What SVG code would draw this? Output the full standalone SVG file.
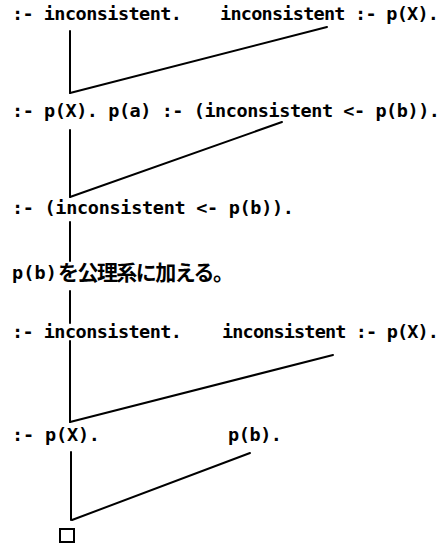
<svg xmlns="http://www.w3.org/2000/svg" width="442" height="547" viewBox="0 0 442 547">
<style>
.t{font-family:"DejaVu Sans Mono","Liberation Mono",monospace;font-weight:bold;font-size:18.5px;fill:#000}
.j{font-family:"Noto Sans CJK JP","Noto Sans CJK SC",sans-serif;font-weight:bold;font-size:21px;fill:#000}
.c line{stroke:#000;stroke-width:2;stroke-linecap:round}
</style>
<rect width="442" height="547" fill="#fff"/>
<g id="connectors" class="c">
<line x1="70" y1="31" x2="70" y2="93"/>
<line x1="70" y1="93" x2="327" y2="27"/>
<line x1="70" y1="130" x2="70" y2="197"/>
<line x1="70" y1="197" x2="282" y2="122"/>
<line x1="70" y1="222" x2="70" y2="261"/>
<line x1="70" y1="291" x2="70" y2="323"/>
<line x1="70" y1="341" x2="70" y2="422"/>
<line x1="70" y1="422" x2="333" y2="355"/>
<line x1="71" y1="452" x2="71" y2="520"/>
<line x1="72" y1="520" x2="250" y2="453"/>
</g>
<g id="n1a"><text class="t" x="12" y="20" textLength="170" lengthAdjust="spacing">:- inconsistent.</text></g>
<g id="n1b"><text class="t" x="220" y="20" textLength="219" lengthAdjust="spacing">inconsistent :- p(X).</text></g>
<g id="n2"><text class="t" x="12" y="117" textLength="428" lengthAdjust="spacing">:- p(X). p(a) :- (inconsistent &lt;- p(b)).</text></g>
<g id="n3"><text class="t" x="12" y="214" textLength="282" lengthAdjust="spacing">:- (inconsistent &lt;- p(b)).</text></g>
<g id="n4"><text class="t" x="12" y="279" textLength="45" lengthAdjust="spacing">p(b)</text><text class="j" x="58" y="280" textLength="176" lengthAdjust="spacing">を公理系に加える。</text></g>
<g id="n5a"><text class="t" x="12" y="338" textLength="170" lengthAdjust="spacing">:- inconsistent.</text></g>
<g id="n5b"><text class="t" x="222" y="338" textLength="217" lengthAdjust="spacing">inconsistent :- p(X).</text></g>
<g id="n6a"><text class="t" x="12" y="441" textLength="88" lengthAdjust="spacing">:- p(X).</text></g>
<g id="n6b"><text class="t" x="228" y="441" textLength="54" lengthAdjust="spacing">p(b).</text></g>
<g id="n7"><rect x="60" y="529" width="14" height="13" fill="none" stroke="#000" stroke-width="2"/></g>
</svg>
